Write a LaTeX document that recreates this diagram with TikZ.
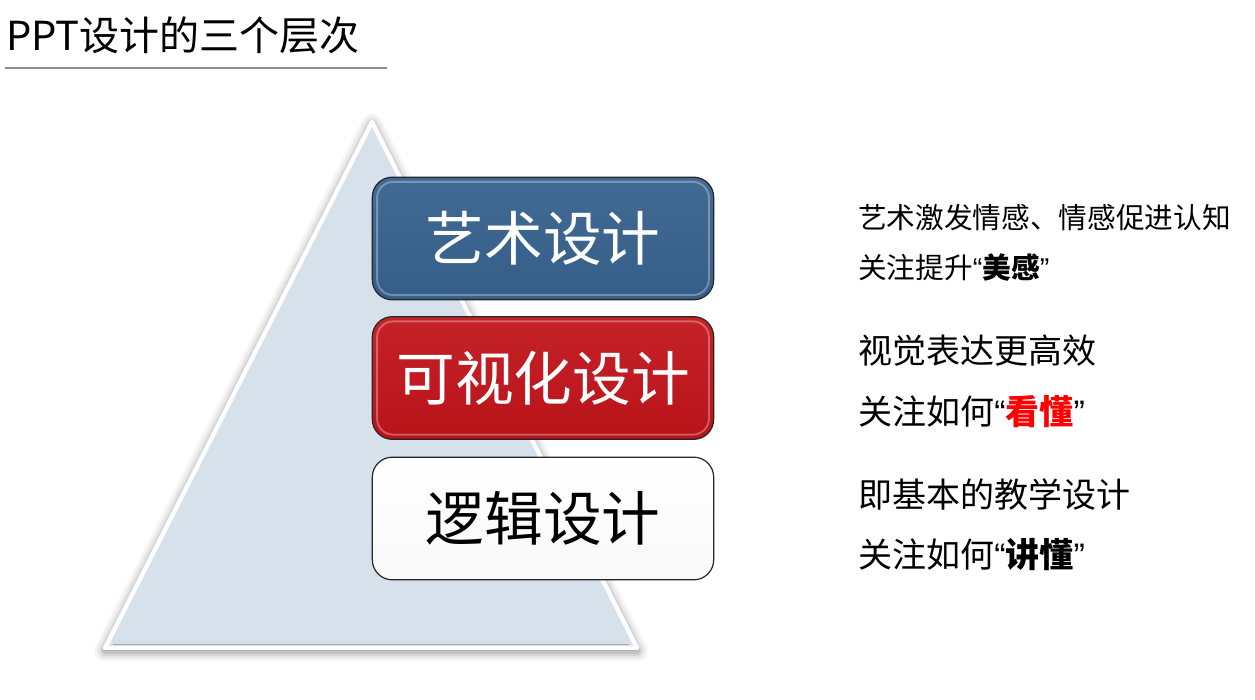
\documentclass[tikz,border=0pt]{standalone}
\usepackage{fontspec}
\setmainfont{Noto Sans CJK SC}
\newfontfamily\quotefont{Liberation Sans}
\newcommand{\openq}{{\quotefont “}}
\newcommand{\closeq}{{\quotefont ”}}
\definecolor{tribase}{HTML}{D6E1EC}
\definecolor{artblue}{HTML}{36618D}
\definecolor{visred}{HTML}{C1141B}
\definecolor{boxframe}{HTML}{262626}
\definecolor{rulegray}{HTML}{8C8C8C}
\tikzset{
  LevelStyle/.style = { rectangle, rounded corners=15pt, draw=boxframe,
                       line width=0.9pt, minimum width=256pt,
                       minimum height=92pt, inner sep=0pt,
                       font = \fontsize{44}{48}\selectfont },
  NoteStyle/.style = { anchor=west, inner sep=0pt,
                       font = \fontsize{25.5}{28}\selectfont } }

\begin{document}
\begin{tikzpicture}[x=0.75pt,y=-0.75pt]
  \fill[white] (0,0) rectangle (1255,699);
  \useasboundingbox (0,0) rectangle (1255,699);
  \tikzstyle{GlossStyle}=[white, opacity=0.3, line width=1.4pt, rounded corners=12pt]

  % title
  \node[anchor=west, inner sep=0pt, font=\fontsize{30}{36}\selectfont] (title) at (6,35) {PPT设计的三个层次};
  \draw[rulegray, line width=0.8pt] (5,68) -- (387,68);

  % pyramid
  \coordinate (apex) at (372,122);
  \coordinate (bl) at (105,648);
  \coordinate (br) at (637,648);
  \foreach \w/\o in {16/0.04,12/0.05,8/0.07,5/0.09}
    \draw[black, opacity=\o, line width=\w pt, line join=round, fill=black] ([yshift=-2pt]apex) -- ([yshift=-2pt]bl) -- ([yshift=-2pt]br) -- cycle;
  \draw[white, line width=3.2pt, fill=tribase, line join=round] (apex) -- (bl) -- (br) -- cycle;
  \draw[gray!70, line width=1.2pt] ([shift={(6pt,2.6pt)}]bl) -- ([shift={(-6pt,2.6pt)}]br);

  % levels
  \node[LevelStyle, top color=artblue!94!white, bottom color=artblue!96!black, text=white] (art) at (543,238.5) {艺术设计};
  \node[LevelStyle, top color=visred!94!white, bottom color=visred!96!black, text=white] (vis) at (543,378) {可视化设计};
  \node[LevelStyle, top color=white, bottom color=gray!5, text=black] (logic) at (543,518.5) {逻辑设计};
  \foreach \n in {art,vis}
    \draw[GlossStyle] ([shift={(4pt,-4pt)}]\n.north west) rectangle ([shift={(-4pt,4pt)}]\n.south east);

  % notes
  \node[NoteStyle, font=\fontsize{21.5}{24}\selectfont] (artA) at (858,218) {艺术激发情感、情感促进认知};
  \node[NoteStyle, font=\fontsize{21.5}{24}\selectfont] (artB) at (858,268) {关注提升\openq{\bfseries 美感}\closeq};
  \node[NoteStyle] (visA) at (858,351) {视觉表达更高效};
  \node[NoteStyle] (visB) at (858,412) {关注如何\openq{\bfseries\color{red} 看懂}\closeq};
  \node[NoteStyle] (logicA) at (858,494) {即基本的教学设计};
  \node[NoteStyle] (logicB) at (858,555) {关注如何\openq{\bfseries 讲懂}\closeq};
\end{tikzpicture}
\end{document}
